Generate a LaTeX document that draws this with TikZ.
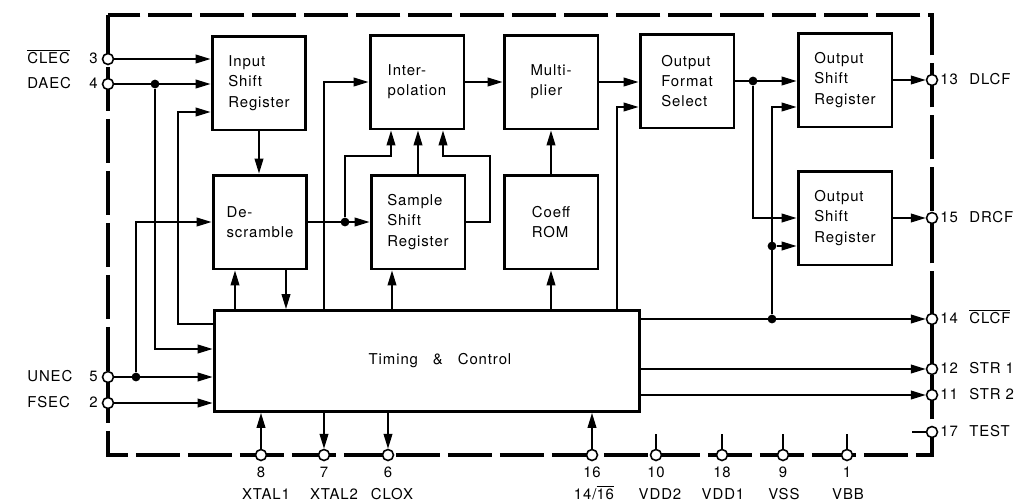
\documentclass[tikz,border=0pt]{standalone}
\usepackage{fontspec}
\setmainfont{TeX Gyre Heros}[LetterSpace=6]
\usetikzlibrary{arrows.meta}

\begin{document}
\begin{tikzpicture}[
    x=0.02cm, y=-0.02cm,
    font=\fontsize{8.5}{11.5}\selectfont,
    blk/.style={draw, line width=1.7pt, minimum width=1.88cm, minimum height=1.88cm,
                align=left, inner sep=0pt},
    chip/.style={line width=2.6pt, dash pattern=on 0.88cm off 0.16cm},
    pad/.style={circle, draw, fill=white, line width=0.9pt, minimum size=0.22cm, inner sep=0pt},
    dot/.style={circle, fill, inner sep=0pt, minimum size=5pt},
    arr/.style={-{Triangle[length=8.5pt,width=5pt]}, line width=0.85pt},
    wire/.style={line width=0.85pt},
    lbl/.style={inner sep=0pt, anchor=mid west},
    num/.style={inner sep=0pt, anchor=mid east}
  ]
  \useasboundingbox (0,0) rectangle (1029,501);

  % chip outline
  \draw[chip] (108,15) rectangle (932,455);

  % blocks
  \node[blk] (isr) at (259,83) {Input\\Shift\\Register};
  \node[blk] (dsc) at (260,222) {De-\\scramble};
  \node[blk] (itp) at (417,82) {Inter-\\polation};
  \node[blk] (ssr) at (418,222) {Sample\\Shift\\Register};
  \node[blk] (mul) at (551,82) {Multi-\\plier};
  \node[blk] (rom) at (551,222) {Coeff\\ROM};
  \node[blk] (ofs) at (687,81) {Output\\Format\\Select};
  \node[blk] (osr1) at (845,80) {Output\\Shift\\Register};
  \node[blk] (osr2) at (845,218) {Output\\Shift\\Register};
  \node[blk, minimum width=8.52cm, minimum height=2.02cm] (tc) at (427,361)
    {\hspace{0.52cm}Timing\quad\&\quad Control};

  % pins
  \foreach \n/\y in {3/59, 4/84, 5/377, 2/403}
    \node[pad] (p\n) at (108,\y) {};
  \foreach \n/\y in {13/80, 15/218, 14/319, 12/369, 11/395, 17/432}
    \node[pad] (p\n) at (932,\y) {};
  \foreach \n/\x in {8/261, 7/324, 6/388, 16/592, 10/656, 18/722, 9/783, 1/847}
    \node[pad] (p\n) at (\x,455) {};

  % pin labels
  \foreach \n/\t in {3/{$\overline{\mbox{CLEC}}$}, 4/DAEC, 5/UNEC, 2/FSEC} {
    \node[num] (n\n) at ([xshift=-0.2cm]p\n) {\n};
    \node[lbl] (t\n) at (p\n -| 27,0) {\t};
  }
  \foreach \n/\t in {13/DLCF, 15/DRCF, 14/{$\overline{\mbox{CLCF}}$}, 12/STR 1, 11/STR 2, 17/TEST} {
    \node[lbl] (n\n) at ([xshift=1pt]p\n.east) {\n};
    \node[lbl] (t\n) at (p\n -| 969,0) {\t};
  }
  \foreach \n/\x/\t in {8/266/XTAL1, 7/334/XTAL2, 6/392/CLOX, 16/594/{14/$\overline{\mbox{16}}$},
                        10/660/VDD2, 18/723/VDD1, 9/784/VSS, 1/848/VBB} {
    \node[inner sep=0pt] (n\n) at (p\n |- 0,472) {\n};
    \node[inner sep=0pt, anchor=base] (t\n) at (\x,499) {\t};
  }

  % input side
  \draw[arr] (p3) -- (p3 -| isr.west);
  \draw[arr] (p4) -- (p4 -| isr.west);
  \node[dot] (j4) at (155,84) {};
  \draw[arr] (j4) |- (tc.west |- 0,349);
  \draw[arr] (tc.west |- 0,324) -| (178,112) -- (isr.west |- 0,112);
  \draw[arr] (p5) -- (p5 -| tc.west);
  \node[dot] (j5) at (136,377) {};
  \draw[arr] (j5) |- (dsc.west);
  \draw[arr] (p2) -- (p2 -| tc.west);

  % descramble, interpolation
  \draw[arr] (isr.south) -- (isr.south |- dsc.north);
  \draw[arr] (tc.north -| 235,0) -- (dsc.south -| 235,0);
  \draw[arr] (dsc.south -| 286,0) -- (tc.north -| 286,0);
  \draw[arr] (dsc.east) -- (ssr.west);
  \node[dot] (j1) at (345,222) {};
  \draw[arr] (j1) |- (391,156) -- (itp.south -| 391,0);
  \draw[arr] (ssr.north) -- (ssr.north |- itp.south);
  \draw[arr] (ssr.east) -| (490,156) -| (itp.south -| 443,0);
  \draw[arr] (tc.north -| 392,0) -- (ssr.south -| 392,0);
  \draw[arr] (tc.north -| 324,0) |- (itp.west);
  \draw[arr] (itp.east) -- (itp.east -| mul.west);

  % coefficients and format
  \draw[arr] (tc.north -| rom.south) -- (rom.south);
  \draw[arr] (rom.north) -- (mul.south);
  \draw[arr] (mul.east) -- (mul.east -| ofs.west);
  \draw[arr] (tc.north -| 617,0) |- (ofs.west |- 0,107);

  % output side
  \draw[arr] (ofs.east) -- (ofs.east -| osr1.west);
  \node[dot] (j2) at (753,81) {};
  \draw[arr] (j2) |- (osr2.west);
  \node[dot] (j3) at (772,319) {};
  \node[dot] (j6) at (772,246) {};
  \draw[arr] (j3) |- (osr1.west |- 0,107);
  \draw[arr] (j6) -- (osr2.west |- j6);
  \draw[arr] (tc.east |- p14) -- (p14);
  \draw[arr] (tc.east |- p12) -- (p12);
  \draw[arr] (tc.east |- p11) -- (p11);
  \draw[arr] (osr1.east |- p13) -- (p13);
  \draw[arr] (osr2.east |- p15) -- (p15);

  % bottom pins
  \draw[arr] (p8) -- (p8 |- tc.south);
  \draw[arr] (p7 |- tc.south) -- (p7);
  \draw[arr] (p6 |- tc.south) -- (p6);
  \draw[arr] (p16) -- (p16 |- tc.south);
  \foreach \n in {10,18,9,1}
    \draw[wire] (p\n.north) -- ++(0,-15);
  \draw[wire] (p17.west) -- ++(-14,0);
\end{tikzpicture}
\end{document}
